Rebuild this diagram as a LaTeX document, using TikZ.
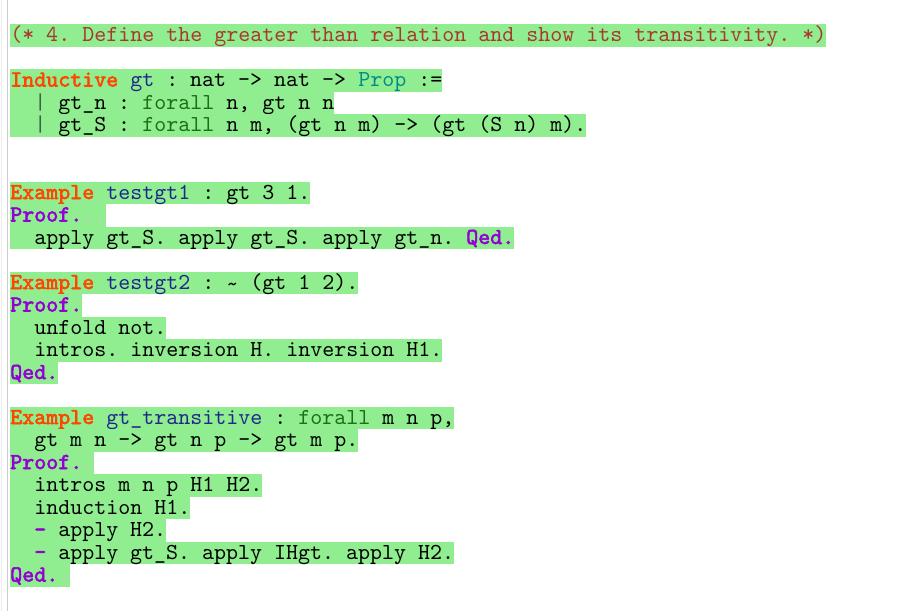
\documentclass[tikz,border=0pt]{standalone}
\usepackage{fontspec}
\setmonofont{lmmono10-regular}[Extension=.otf, AutoFakeBold=2.5]
\definecolor{bandc}{RGB}{144,238,144}
\definecolor{commentc}{RGB}{170,55,45}
\definecolor{kwc}{RGB}{255,69,0}
\definecolor{idc}{RGB}{30,40,140}
\definecolor{typec}{RGB}{0,139,139}
\definecolor{forallc}{RGB}{30,110,20}
\definecolor{barc}{RGB}{60,100,70}
\definecolor{proofc}{RGB}{148,0,211}
\definecolor{dotc}{RGB}{200,205,200}
\newcommand{\kw}[1]{\textcolor{kwc}{\textbf{#1}}}
\newcommand{\pf}[1]{\textcolor{proofc}{\textbf{#1}}}
\newcommand{\ident}[1]{\textcolor{idc}{#1}}
\newcommand{\fa}{\textcolor{forallc}{forall}}
\newcommand{\ws}[1]{\textcolor{dotc}{#1}}
\tikzset{ % common looks of the listing
	band/.style={fill=bandc}, % highlight behind a line
	code/.style={anchor=base west, inner sep=0pt,
		font=\ttfamily\frenchspacing\fontsize{17.143pt}{22.5pt}\selectfont},
}
% name, row, indent, highlighted chars, text
\newcommand{\codeline}[5]{%
	\fill[band] (10,24+22.5*#2) rectangle (10+12*#4,46.5+22.5*#2);
	\node[code] (#1) at (10+12*#3,41.5+22.5*#2) {#5};
}
\begin{document}
\begin{tikzpicture}[x=0.75pt,y=-0.75pt]
	\useasboundingbox (0,0) rectangle (921,611);
	% Margin
	\draw[gray!15,line width=0.75pt] (1.5,0) -- (1.5,611);
	\draw[gray!40,line width=0.75pt] (7.5,0) -- (7.5,611);
	% Comment
	\codeline{cmt}{0}{0}{68}{\textcolor{commentc}{(* 4. Define the greater than relation and show its transitivity. *)}}
	% Definition
	\codeline{ind}{2}{0}{36}{\kw{Inductive} \ident{gt} : nat -> nat -> \textcolor{typec}{Prop} :=}
	\codeline{gtn}{3}{2}{27}{\textcolor{barc}{|} gt\_n : \fa{} n, gt n n}
	\codeline{gts}{4}{2}{48}{\textcolor{barc}{|} gt\_S : \fa{} n m, (gt n m) -> (gt (S n) m).}
	% Example 1
	\codeline{exa}{7}{0}{25}{\kw{Example} \ident{testgt1} : gt 3 1.}
	\codeline{pra}{8}{0}{8}{\pf{Proof.}\ws{..}}
	\codeline{taca}{9}{2}{42}{apply gt\_S. apply gt\_S. apply gt\_n. \pf{Qed.}}
	% Example 2
	\codeline{exb}{11}{0}{29}{\kw{Example} \ident{testgt2} : \raisebox{-0.3ex}{\textasciitilde}{} (gt 1 2).}
	\codeline{prb}{12}{0}{6}{\pf{Proof.}}
	\codeline{tacb}{13}{2}{13}{unfold not.}
	\codeline{tacc}{14}{2}{36}{intros. inversion H. inversion H1.}
	\codeline{qedb}{15}{0}{4}{\pf{Qed.}}
	% Example 3
	\codeline{exc}{17}{0}{37}{\kw{Example} \ident{gt\_transitive} : \fa{} m n p,}
	\codeline{exd}{18}{2}{29}{gt m n -> gt n p -> gt m p.}
	\codeline{prc}{19}{0}{7}{\pf{Proof.}\ws{.}}
	\codeline{tacd}{20}{2}{21}{intros m n p H1 H2.}
	\codeline{tace}{21}{2}{15}{induction H1.}
	\codeline{tacf}{22}{2}{13}{\pf{-} apply H2.}
	\codeline{tacg}{23}{2}{37}{\pf{-} apply gt\_S. apply IHgt. apply H2.}
	\codeline{qedc}{24}{0}{5}{\pf{Qed.}\ws{.}}
\end{tikzpicture}
\end{document}
